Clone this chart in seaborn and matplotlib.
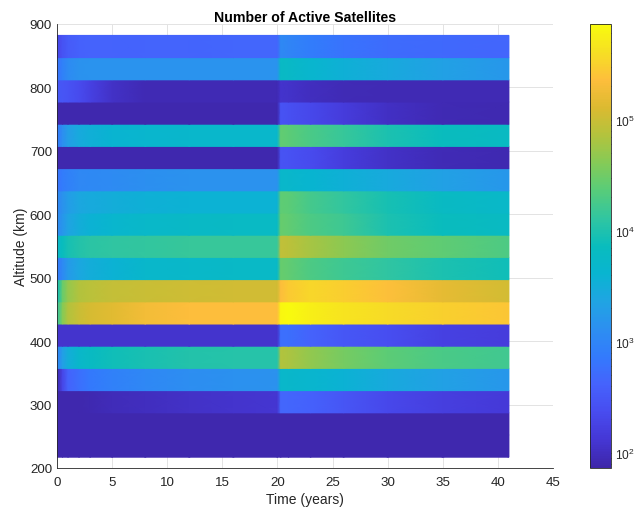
import matplotlib

matplotlib.use("Agg")

import matplotlib.pyplot as plt
import matplotlib.ticker as mticker
import numpy as np
import seaborn as sns
from matplotlib.colors import LinearSegmentedColormap, LogNorm

time_years = [0, 0.5, 1, 2, 3, 5, 8, 12, 16, 20, 20.3, 21, 23, 26, 30, 35, 41]

# altitude shell edges (km), bottom to top
altitude_edges_km = [217, 252, 287, 322, 357, 392, 427, 462, 497, 532,
                     567, 602, 637, 672, 707, 742, 777, 812, 847, 882]

# log10(number of active satellites) per shell, one value per time sample
shell_235 = [1.9] * 17
shell_270 = [1.9] * 17
shell_305 = [1.9, 1.9, 1.9, 1.9, 1.92, 1.96, 2.0, 2.04, 2.08, 2.1, 2.65, 2.65, 2.6, 2.48, 2.32, 2.22, 2.15]
shell_340 = [1.9, 2.3, 2.62, 2.75, 2.85, 2.95, 3.03, 3.1, 3.13, 3.15, 3.7, 3.7, 3.65, 3.57, 3.45, 3.32, 3.22]
shell_375 = [2.95, 3.3, 3.5, 3.7, 3.8, 3.9, 3.97, 4.02, 4.05, 4.05, 4.85, 4.82, 4.68, 4.52, 4.38, 4.28, 4.22]
shell_410 = [2.07] * 10 + [2.75, 2.75, 2.62, 2.5, 2.38, 2.25, 2.18]
shell_445 = [4.1, 4.6, 4.85, 5.0, 5.08, 5.15, 5.28, 5.35, 5.36, 5.36, 5.83, 5.85, 5.74, 5.65, 5.58, 5.5, 5.42]
shell_480 = [3.85, 4.45, 4.7, 4.85, 4.9, 4.97, 5.0, 5.02, 5.05, 5.05, 5.35, 5.45, 5.55, 5.48, 5.37, 5.18, 5.06]
shell_515 = [2.85, 3.05, 3.25, 3.4, 3.5, 3.57, 3.68, 3.72, 3.75, 3.75, 4.45, 4.42, 4.3, 4.2, 4.1, 3.98, 3.9]
shell_550 = [3.7, 3.85, 3.95, 4.02, 4.08, 4.1, 4.12, 4.15, 4.15, 4.15, 4.95, 4.92, 4.8, 4.65, 4.5, 4.4, 4.3]
shell_585 = [3.05, 3.2, 3.35, 3.5, 3.58, 3.65, 3.72, 3.75, 3.78, 3.78, 4.45, 4.42, 4.3, 4.2, 3.98, 3.85, 3.8]
shell_620 = [3.0, 3.15, 3.28, 3.4, 3.45, 3.5, 3.55, 3.58, 3.58, 3.58, 4.4, 4.38, 4.25, 4.12, 3.95, 3.8, 3.72]
shell_655 = [2.8, 2.88, 2.95, 3.02, 3.05, 3.08, 3.12, 3.15, 3.15, 3.15, 3.7, 3.68, 3.62, 3.55, 3.45, 3.33, 3.22]
shell_690 = [1.9] * 10 + [2.45, 2.43, 2.35, 2.2, 2.05, 1.95, 1.92]
shell_725 = [2.85, 3.1, 3.3, 3.45, 3.52, 3.6, 3.65, 3.68, 3.68, 3.68, 4.42, 4.38, 4.28, 4.15, 3.98, 3.85, 3.8]
shell_760 = [1.9] * 10 + [2.45, 2.42, 2.32, 2.18, 2.02, 1.93, 1.92]
shell_795 = [2.5, 2.48, 2.45, 2.35, 2.25, 2.05, 1.93, 1.93, 1.93, 1.93, 2.08, 2.06, 2.0, 1.95, 1.93, 1.93, 1.93]
shell_830 = [2.8, 2.95, 3.08, 3.15, 3.17, 3.17, 3.17, 3.17, 3.17, 3.17, 3.78, 3.75, 3.65, 3.55, 3.45, 3.33, 3.22]
shell_865 = [2.3, 2.45, 2.55, 2.6, 2.62, 2.62, 2.63, 2.64, 2.65, 2.65, 3.05, 3.0, 2.9, 2.8, 2.72, 2.68, 2.65]

shells = [shell_235, shell_270, shell_305, shell_340, shell_375, shell_410, shell_445,
          shell_480, shell_515, shell_550, shell_585, shell_620, shell_655, shell_690,
          shell_725, shell_760, shell_795, shell_830, shell_865]

color_min, color_max = 73, 7.3e5

# parula-like colormap
parula_anchors = [
    (0.2422, 0.1504, 0.6603), (0.2704, 0.2138, 0.8346), (0.2813, 0.2985, 0.9397),
    (0.2710, 0.3860, 0.9898), (0.2006, 0.4803, 0.9906), (0.1740, 0.5605, 0.9432),
    (0.1253, 0.6453, 0.8887), (0.0328, 0.7071, 0.8183), (0.0369, 0.7400, 0.7426),
    (0.1905, 0.7743, 0.6303), (0.3424, 0.8009, 0.4774), (0.5200, 0.7950, 0.3400),
    (0.7000, 0.7650, 0.2400), (0.8600, 0.7300, 0.1900), (0.9950, 0.7450, 0.2350),
    (0.9650, 0.8750, 0.1400), (0.9763, 0.9831, 0.0538),
]
parula = LinearSegmentedColormap.from_list("parula", parula_anchors, N=256)

sns.set_style("white")
plt.rcParams["font.family"] = ["Liberation Sans", "DejaVu Sans"]
text_color = "#262626"

figure = plt.figure(figsize=(6.36, 5.10), dpi=100)
axis = figure.add_axes([0.0896, 0.0804, 0.7799, 0.8706])
color_axis = figure.add_axes([0.9277, 0.0804, 0.0330, 0.8706])

norm = LogNorm(vmin=color_min, vmax=color_max)
counts = 10.0 ** np.array(shells)
for index, row in enumerate(counts):
    mesh = axis.pcolormesh(
        time_years,
        altitude_edges_km[index:index + 2],
        np.vstack([row, row]),
        shading="gouraud",
        cmap=parula,
        norm=norm,
        antialiased=False,
        zorder=2,
    )

axis.set_xlim(0, 45)
axis.set_ylim(200, 900)
axis.set_xticks(range(0, 46, 5))
axis.set_yticks(range(200, 901, 100))
axis.grid(True, color="#e3e3e3", linewidth=0.7, zorder=0)
axis.set_axisbelow(True)
for side in ("top", "right"):
    axis.spines[side].set_visible(False)
for side in ("left", "bottom"):
    axis.spines[side].set_color(text_color)
    axis.spines[side].set_linewidth(0.6)
axis.tick_params(direction="in", length=4, width=0.6, colors=text_color,
                 labelsize=9.6)
axis.tick_params(axis="x", pad=6)
axis.tick_params(axis="y", pad=3.5)
axis.set_xlabel("Time (years)", fontsize=10, color=text_color, labelpad=3)
axis.set_ylabel("Altitude (km)", fontsize=10, color=text_color, labelpad=1.5)
axis.set_title("Number of Active Satellites", fontsize=10.2, fontweight="bold",
               color="black", pad=2)

colorbar = figure.colorbar(mesh, cax=color_axis)
colorbar.outline.set_edgecolor(text_color)
colorbar.outline.set_linewidth(0.6)
color_axis.yaxis.set_major_locator(mticker.LogLocator(base=10))
color_axis.yaxis.set_minor_locator(mticker.LogLocator(base=10, subs=range(2, 10)))
color_axis.yaxis.set_minor_formatter(mticker.NullFormatter())
color_axis.tick_params(which="major", direction="in", length=4, width=0.6,
                       colors=text_color, labelsize=8.6, pad=3)
color_axis.tick_params(which="minor", direction="in", length=2.2, width=0.5,
                       colors=text_color)

figure.savefig("out.png", dpi=100)
plt.close(figure)
